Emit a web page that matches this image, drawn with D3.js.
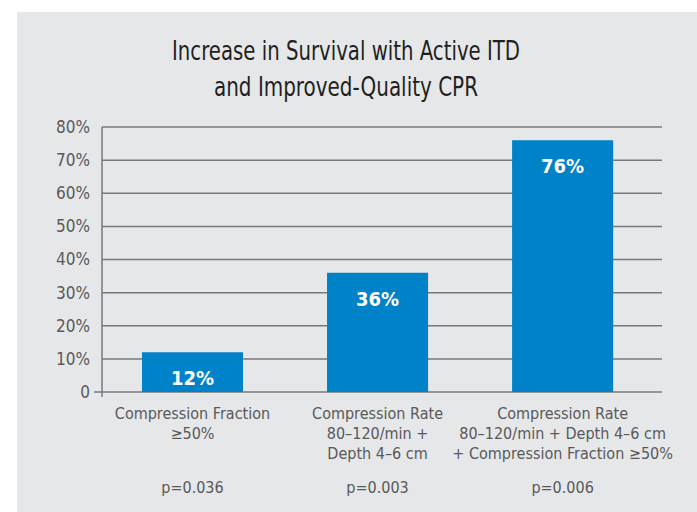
<!DOCTYPE html>
<html>
<head>
<meta charset="utf-8">
<script src="https://cdn.jsdelivr.net/npm/d3@7.9.0/dist/d3.min.js"></script>
<style>
  body { margin: 0; background: #fff; }
  svg { display: block; }
  text { font-family: "DejaVu Sans Condensed", "Liberation Sans", sans-serif; }
</style>
</head>
<body>
<svg id="chart" width="697" height="512"></svg>
<script>
// chart data
const titleLines = ['Increase in Survival with Active ITD', 'and Improved-Quality CPR'];
const titleWidths = [348, 264];
const categories = [
  ['Compression Fraction', '\u226550%'],
  ['Compression Rate', '80\u2013120/min +', 'Depth 4\u20136 cm'],
  ['Compression Rate', '80\u2013120/min + Depth 4\u20136 cm', '+ Compression Fraction \u226550%']
];
const values = [12, 36, 76];
const pValues = ['p=0.036', 'p=0.003', 'p=0.006'];
const yTicks = [0, 10, 20, 30, 40, 50, 60, 70, 80];

const svg = d3.select('#chart');

// grey panel behind everything
svg.append('rect')
  .attr('x', 17).attr('y', 12)
  .attr('width', 697 - 17).attr('height', 512 - 12)
  .attr('fill', '#e6e7e8');

// title, squeezed to mimic the condensed face of the original
svg.append('g')
  .selectAll('text')
  .data(titleLines)
  .join('text')
  .attr('x', 346)
  .attr('y', (d, i) => 60 + i * 36)
  .attr('text-anchor', 'middle')
  .attr('font-size', 27).attr('fill', '#231f20')
  .attr('textLength', (d, i) => titleWidths[i])
  .attr('lengthAdjust', 'spacingAndGlyphs')
  .text(d => d);

const plotLeft = 102, plotRight = 662, plotTop = 127, plotBottom = 392;

const y = d3.scaleLinear().domain([0, 80]).range([plotBottom, plotTop]);
const x = d3.scaleBand()
  .domain(d3.range(values.length))
  .range([plotLeft, plotRight])
  .paddingInner(0.454)
  .paddingOuter(0.24)
  .align(0.45);

// gridlines
svg.append('g')
  .selectAll('line')
  .data(yTicks)
  .join('line')
  .attr('x1', plotLeft).attr('x2', plotRight)
  .attr('y1', d => y(d)).attr('y2', d => y(d))
  .attr('stroke', '#77787b').attr('stroke-width', 1.5);

// y axis
const yAxis = svg.append('g')
  .attr('transform', `translate(${plotLeft},0)`)
  .call(d3.axisLeft(y).tickValues(yTicks).tickSize(0).tickPadding(12)
    .tickFormat(d => d === 0 ? '0' : d + '%'));
yAxis.select('.domain').remove();
yAxis.selectAll('text')
  .attr('font-size', 17).attr('fill', '#58595b')
  .attr('font-family', '"DejaVu Sans Condensed", sans-serif');
svg.append('line')
  .attr('x1', plotLeft).attr('x2', plotLeft)
  .attr('y1', y(80)).attr('y2', y(0) + 5)
  .attr('stroke', '#77787b').attr('stroke-width', 1.5);
svg.append('line')
  .attr('x1', plotLeft - 8).attr('x2', plotLeft)
  .attr('y1', y(0)).attr('y2', y(0))
  .attr('stroke', '#77787b').attr('stroke-width', 1.5);

// bars
svg.append('g')
  .selectAll('rect')
  .data(values)
  .join('rect')
  .attr('x', (d, i) => x(i))
  .attr('y', d => y(d))
  .attr('width', x.bandwidth())
  .attr('height', d => y(0) - y(d))
  .attr('fill', '#0082c8');

// bar value labels
svg.append('g')
  .selectAll('text')
  .data(values)
  .join('text')
  .attr('x', (d, i) => x(i) + x.bandwidth() / 2)
  .attr('y', d => y(d) + 33)
  .attr('text-anchor', 'middle')
  .attr('font-family', '"DejaVu Sans", sans-serif')
  .attr('font-weight', 'bold')
  .attr('font-size', 20)
  .attr('fill', '#fff')
  .text(d => d + '%');

// category labels
const catG = svg.append('g');
categories.forEach((lines, i) => {
  catG.append('text')
    .attr('text-anchor', 'middle')
    .attr('font-size', 16).attr('fill', '#58595b')
    .selectAll('tspan')
    .data(lines)
    .join('tspan')
    .attr('x', x(i) + x.bandwidth() / 2)
    .attr('y', (d, j) => 419 + j * 20)
    .text(d => d);
});

// p-values
svg.append('g')
  .selectAll('text')
  .data(pValues)
  .join('text')
  .attr('x', (d, i) => x(i) + x.bandwidth() / 2)
  .attr('y', 493)
  .attr('text-anchor', 'middle')
  .attr('font-size', 16).attr('fill', '#58595b')
  .text(d => d);
</script>
</body>
</html>
